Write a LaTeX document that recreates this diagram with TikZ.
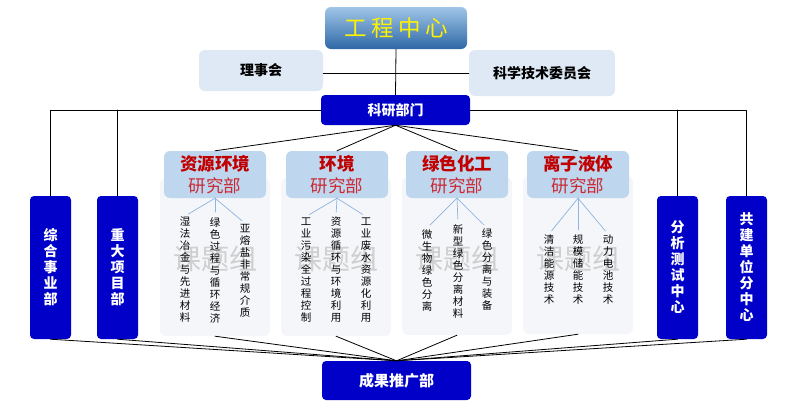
\documentclass[tikz,border=0pt]{standalone}
\usepackage{fontspec}
\setmainfont{Noto Sans CJK SC}
\definecolor{deepblue}{RGB}{0,0,200}
\definecolor{paleblue}{RGB}{222,233,245}
\definecolor{headblue}{RGB}{190,215,238}
\definecolor{panelgray}{RGB}{244,246,249}
\definecolor{darkred}{RGB}{192,0,0}
\definecolor{midred}{RGB}{204,40,52}
\definecolor{twigblue}{RGB}{141,180,226}
\definecolor{topA}{RGB}{160,198,232}
\definecolor{topB}{RGB}{46,104,166}
\tikzset{
  bluebox/.style={fill=deepblue,rounded corners=4pt,text=white,align=center,font=\bfseries\fontsize{14}{16}\selectfont},
  sidebox/.style={bluebox,minimum width=41pt,minimum height=143pt},
  palebox/.style={fill=paleblue,rounded corners=6pt,font=\bfseries\fontsize{14}{16}\selectfont},
  headbox/.style={fill=headblue,rounded corners=6pt,minimum width=102pt,minimum height=47pt,align=center,font=\fontsize{17.5}{22}\selectfont},
  panel/.style={fill=panelgray,rounded corners=6pt,minimum width=110pt,minimum height=158pt},
  item/.style={align=center,inner sep=1pt,font=\fontsize{10.5}{12}\selectfont},
  wmark/.style={text=black!19,font=\fontsize{28}{28}\selectfont},
  twig/.style={draw=twigblue,line width=0.7pt,shorten >=4pt},
  link/.style={line width=0.8pt}
}
\begin{document}
\begin{tikzpicture}[x=1pt,y=-1pt,line cap=round,line join=round]
	\useasboundingbox (0,0) rectangle (794,413);
	% research panels
	\node[panel] (p1) at (215,257) {};
	\node[panel] (p2) at (336,257) {};
	\node[panel] (p3) at (457,256) {};
	\node[panel] (p4) at (578,255) {};
	\node[wmark] at (215,259) {课题组};
	\node[wmark] at (336,259) {课题组};
	\node[wmark] at (457,259) {课题组};
	\node[wmark] at (578,259) {课题组};
	\node[headbox] (h1) at (215,174.5) {{\bfseries\textcolor{darkred}{资源环境}}\\\textcolor{midred}{研究部}};
	\node[headbox] (h2) at (337,174.5) {{\bfseries\textcolor{darkred}{环境}}\\\textcolor{midred}{研究部}};
	\node[headbox] (h3) at (457,174.5) {{\bfseries\textcolor{darkred}{绿色化工}}\\\textcolor{midred}{研究部}};
	\node[headbox] (h4) at (578,174.5) {{\bfseries\textcolor{darkred}{离子液体}}\\\textcolor{midred}{研究部}};
	\node[item] (c11) at (185,270) {湿\\法\\冶\\金\\与\\先\\进\\材\\料};
	\node[item] (c12) at (215,270) {绿\\色\\过\\程\\与\\循\\环\\经\\济};
	\node[item] (c13) at (245,271) {亚\\熔\\盐\\非\\常\\规\\介\\质};
	\node[item] (c21) at (306,270) {工\\业\\污\\染\\全\\过\\程\\控\\制};
	\node[item] (c22) at (336,270) {资\\源\\循\\环\\与\\环\\境\\利\\用};
	\node[item] (c23) at (366,270) {工\\业\\废\\水\\资\\源\\化\\利\\用};
	\node[item] (c31) at (427,270) {微\\生\\物\\绿\\色\\分\\离};
	\node[item] (c32) at (458,271) {新\\型\\绿\\色\\分\\离\\材\\料};
	\node[item] (c33) at (487,270) {绿\\色\\分\\离\\与\\装\\备};
	\node[item] (c41) at (549,270) {清\\洁\\能\\源\\技\\术};
	\node[item] (c42) at (578,270) {规\\模\\储\\能\\技\\术};
	\node[item] (c43) at (608,270) {动\\力\\电\\池\\技\\术};
	\draw[twig] (h1.south)--(c11.north); \draw[twig] (h1.south)--(c12.north); \draw[twig] (h1.south)--(c13.north);
	\draw[twig] (h2.south)--(c21.north); \draw[twig] (h2.south)--(c22.north); \draw[twig] (h2.south)--(c23.north);
	\draw[twig] (h3.south)--(c31.north); \draw[twig] (h3.south)--(c32.north); \draw[twig] (h3.south)--(c33.north);
	\draw[twig] (h4.south)--(c41.north); \draw[twig] (h4.south)--(c42.north); \draw[twig] (h4.south)--(c43.north);
	% top and bottom boxes
	\node[rounded corners=6pt,top color=topA,bottom color=topB,minimum width=142pt,minimum height=42pt,text=yellow,font=\fontsize{22.5}{24}\selectfont] (gc) at (396,28) {工\hspace{4.5pt}程\hspace{4.5pt}中\hspace{4.5pt}心};
	\node[palebox,minimum width=124pt,minimum height=41pt] (lsh) at (261,70.5) {理事会};
	\node[palebox,minimum width=146pt,minimum height=46pt] (kjw) at (542,73) {科学技术委员会};
	\node[bluebox,minimum width=149pt,minimum height=30pt] (kybm) at (395.5,110) {科研部门};
	\node[bluebox,minimum width=149pt,minimum height=39pt,font=\bfseries\fontsize{15}{17}\selectfont] (cgtg) at (396.5,380.5) {成果推广部};
	\node[sidebox] (zhsy) at (50.5,267.5) {综\\合\\事\\业\\部};
	\node[sidebox] (zdxm) at (117.5,267.5) {重\\大\\项\\目\\部};
	\node[sidebox] (fxcs) at (677.5,267.5) {分\\析\\测\\试\\中\\心};
	\node[sidebox] (gjdw) at (746.5,267.5) {共\\建\\单\\位\\分\\中\\心};
	% connectors
	\draw[link] (gc.south)--(kybm.north);
	\draw[link] (lsh.east |- kjw.west)--(kjw.west);
	\draw[link] (kybm.west)--(zhsy.north |- kybm.west)--(zhsy.north);
	\draw[link] (zdxm.north |- kybm.west)--(zdxm.north);
	\draw[link] (kybm.east)--(gjdw.north |- kybm.east)--(gjdw.north);
	\draw[link] (fxcs.north |- kybm.east)--(fxcs.north);
	\draw[link] (kybm.south)--(h1.north); \draw[link] (kybm.south)--(h2.north);
	\draw[link] (kybm.south)--(h3.north); \draw[link] (kybm.south)--(h4.north);
	\draw[link] (p1.south)--(cgtg.north); \draw[link] (p2.south)--(cgtg.north);
	\draw[link] (p3.south)--(cgtg.north); \draw[link] (p4.south)--(cgtg.north);
	\draw[link] (zhsy.south)--(cgtg.north); \draw[link] (zdxm.south)--(cgtg.north);
	\draw[link] (fxcs.south)--(cgtg.north); \draw[link] (gjdw.south)--(cgtg.north);
\end{tikzpicture}
\end{document}
